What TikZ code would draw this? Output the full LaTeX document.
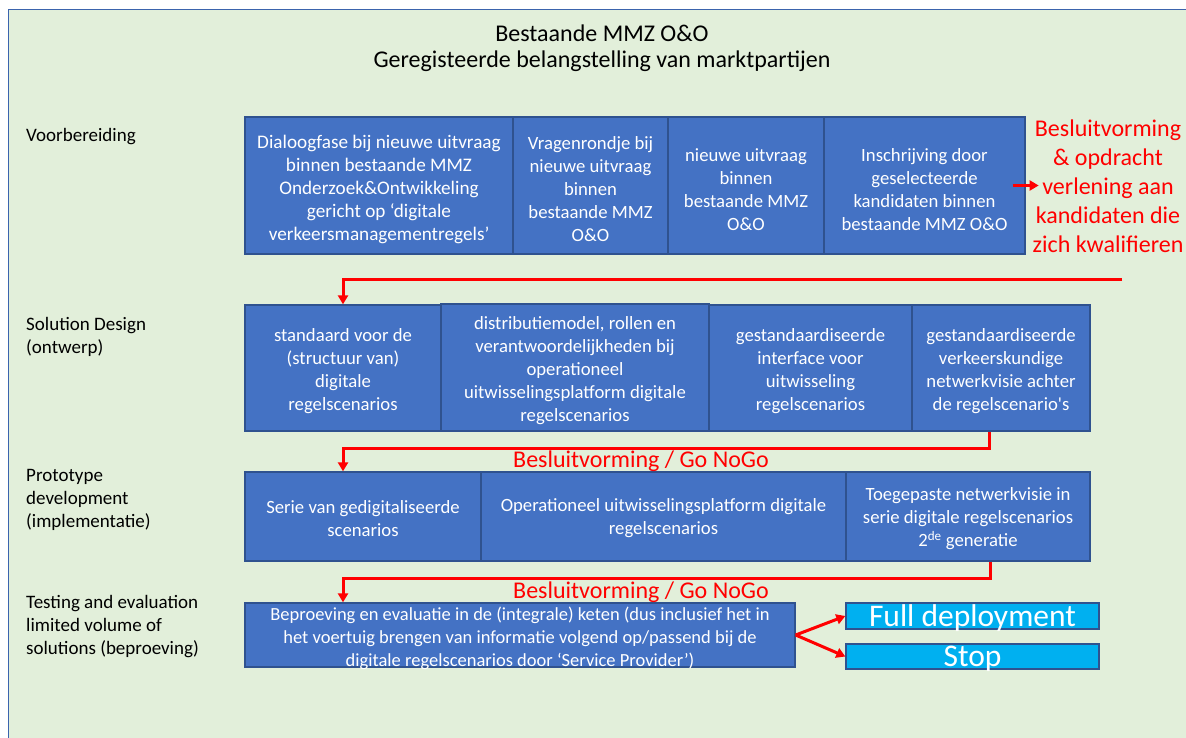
\documentclass[tikz,border=0pt]{standalone}
\usepackage{fontspec}
\setmainfont{Carlito}
\usetikzlibrary{arrows.meta}
\definecolor{bg}{HTML}{E2EFDA}
\definecolor{boxfill}{HTML}{4472C4}
\definecolor{boxline}{HTML}{2F528F}
\definecolor{frameline}{HTML}{3B64AD}
\definecolor{cyanbox}{HTML}{00B0F0}
\definecolor{redline}{HTML}{FF0000}
\begin{document}
\begin{tikzpicture}[x=1pt,y=-1pt,
  bluebox/.style={draw=boxline, fill=boxfill, line width=1.3pt, inner sep=0pt},
  boxtext/.style={text=white, inner sep=0pt, align=center,
    font=\fontsize{18.7}{23}\selectfont},
  cyanbox/.style={draw=boxline, fill=cyanbox, line width=1.3pt, inner sep=0pt},
  cyantext/.style={text=white, inner sep=0pt, align=center,
    font=\fontsize{31.5}{32}\selectfont},
  phase/.style={anchor=west, align=left, inner sep=0pt,
    font=\fontsize{19}{23}\selectfont},
  redtext/.style={text=redline, align=center, inner sep=0pt},
  redarrow/.style={draw=redline, line width=3pt,
    -{Triangle[length=9pt,width=10pt]}}
]
\useasboundingbox (0,0) rectangle (1186,738);
\clip (0,0) rectangle (1186,738);
\fill[white] (0,0) rectangle (1186,738);
\draw[fill=bg, draw=frameline, line width=1.6pt] (8.5,9.5) rectangle (1220,760);

% title
\node[align=center, inner sep=0pt, font=\fontsize{24}{26}\selectfont] (title) at (602,48.5)
  {Bestaande MMZ O\&O\\Geregisteerde belangstelling van marktpartijen};

% phase labels
\node[phase] (p1) at (26,136.5) {Voorbereiding};
\node[phase] (p2) at (26,337) {Solution Design\\(ontwerp)};
\node[phase] (p3) at (26,499.5) {Prototype\\development\\(implementatie)};
\node[phase] (p4) at (26,626.5) {Testing and evaluation\\limited volume of\\solutions (beproeving)};

% row 1
\node[bluebox, minimum width=268pt, minimum height=137pt] (A) at (379,185.5) {};
\node[bluebox, minimum width=155pt, minimum height=137pt] (B) at (590.5,185.5) {};
\node[bluebox, minimum width=156pt, minimum height=137pt] (C) at (746,185.5) {};
\node[bluebox, minimum width=201pt, minimum height=137pt] (D) at (924.5,185.5) {};
\node[boxtext, font=\fontsize{19.2}{23}\selectfont] (At) at ([yshift=-4pt]A.center)
  {Dialoogfase bij nieuwe uitvraag\\binnen bestaande MMZ\\Onderzoek\&Ontwikkeling\\gericht op ‘digitale\\verkeersmanagementregels’};
\node[boxtext] (Bt) at ([yshift=-4pt]B.center)
  {Vragenrondje bij\\nieuwe uitvraag\\binnen\\bestaande MMZ\\O\&O};
\node[boxtext] (Ct) at ([yshift=-4pt]C.center)
  {nieuwe uitvraag\\binnen\\bestaande MMZ\\O\&O};
\node[boxtext] (Dt) at ([yshift=-4pt]D.center)
  {Inschrijving door\\geselecteerde\\kandidaten binnen\\bestaande MMZ O\&O};
\node[redtext, font=\fontsize{24}{29}\selectfont] (besl) at (1108,186)
  {Besluitvorming\\\& opdracht\\verlening aan\\kandidaten die\\zich kwalifieren};
\draw[draw=redline, line width=3pt, -{Triangle[length=9pt,width=10pt]}]
  ([xshift=-13pt]D.east) -- ([xshift=13pt]D.east);

% row 2
\node[bluebox, minimum width=196pt, minimum height=126pt] (E) at (343,368) {};
\node[bluebox, minimum width=268pt, minimum height=127pt] (F) at (575,367.5) {};
\node[bluebox, minimum width=203pt, minimum height=126pt] (G) at (810.5,368) {};
\node[bluebox, minimum width=178pt, minimum height=126pt] (H) at (1001,368) {};
\node[boxtext] (Et) at ([yshift=-3pt]E.center)
  {standaard voor de\\(structuur van)\\digitale\\regelscenarios};
\node[boxtext] (Ft) at ([yshift=-3pt]F.center)
  {distributiemodel, rollen en\\verantwoordelijkheden bij\\operationeel\\uitwisselingsplatform digitale\\regelscenarios};
\node[boxtext] (Gt) at ([yshift=-3pt]G.center)
  {gestandaardiseerde\\interface voor\\uitwisseling\\regelscenarios};
\node[boxtext] (Ht) at ([yshift=-3pt]H.center)
  {gestandaardiseerde\\verkeerskundige\\netwerkvisie achter\\de regelscenario\textquotesingle s};

% connector 1
\coordinate (c1) at (1122,279);
\coordinate (a1) at (343,279);
\draw[redarrow] (c1) -- (a1) -- (a1 |- E.north);

% row 3
\node[bluebox, minimum width=236pt, minimum height=89pt] (I) at (363,516.5) {};
\node[bluebox, minimum width=365pt, minimum height=89pt] (J) at (663.5,516.5) {};
\node[bluebox, minimum width=244pt, minimum height=89pt] (K) at (968,516.5) {};
\node[boxtext] (It) at ([yshift=-2pt]I.center)
  {Serie van gedigitaliseerde\\scenarios};
\node[boxtext] (Jt) at ([yshift=-2pt]J.center)
  {Operationeel uitwisselingsplatform digitale\\regelscenarios};
\node[boxtext] (Kt) at ([yshift=-2pt]K.center)
  {Toegepaste netwerkvisie in\\serie digitale regelscenarios\\2\textsuperscript{de} generatie};

% connector 2
\coordinate (s2) at (989,448);
\coordinate (t2) at (343,448);
\draw[redarrow] (s2 |- H.south) -- (s2) -- (t2) -- (t2 |- I.north);
\node[redtext, font=\fontsize{24}{26}\selectfont] (g1) at (641,461) {Besluitvorming / Go NoGo};

% row 4
\node[bluebox, minimum width=550pt, minimum height=64pt] (L) at (520,635) {};
\node[boxtext, font=\fontsize{18.5}{23}\selectfont] (Lt) at ([yshift=-3pt]L.center)
  {Beproeving en evaluatie in de (integrale) keten (dus inclusief het in\\het voertuig brengen van informatie volgend op/passend bij de\\digitale regelscenarios door ‘Service Provider’)};

% connector 3
\coordinate (s3) at (990,578);
\coordinate (t3) at (343,578);
\draw[redarrow] (s3 |- K.south) -- (s3) -- (t3) -- (t3 |- L.north);
\node[redtext, font=\fontsize{24}{26}\selectfont] (g2) at (641,592) {Besluitvorming / Go NoGo};

% outcomes
\node[cyanbox, minimum width=253pt, minimum height=26pt] (FD) at (972.5,616) {};
\node[cyanbox, minimum width=253pt, minimum height=25pt] (ST) at (972.5,656.5) {};
\node[cyantext] (FDt) at ([yshift=-2pt]FD.center) {Full deployment};
\node[cyantext] (STt) at ([yshift=-2pt]ST.center) {Stop};
\draw[redarrow] (L.east) -- (FD.west);
\draw[redarrow] (L.east) -- (ST.west);
\end{tikzpicture}
\end{document}
